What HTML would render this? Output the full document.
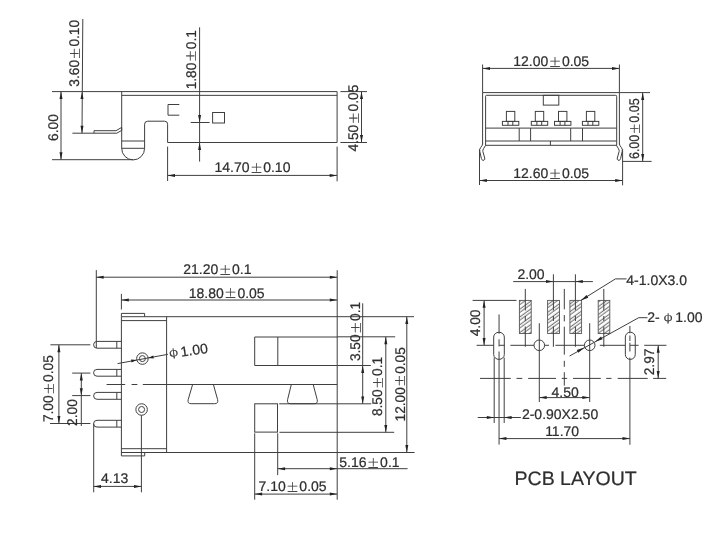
<!DOCTYPE html>
<html lang="en">
<head>
<meta charset="utf-8">
<title>PCB LAYOUT</title>
<style>
html,body{margin:0;padding:0;background:#fff;}
body{width:715px;height:542px;overflow:hidden;}
svg{display:block;will-change:transform;filter:grayscale(1);}
svg line,svg path,svg rect,svg circle{fill:none;stroke:#3f3f3f;stroke-width:1.0;}
svg .ar{fill:#222;stroke:none;}
svg text{font-family:"Liberation Sans","Noto Serif CJK SC",sans-serif;font-size:14.0px;fill:#2e2e2e;stroke:#2e2e2e;stroke-width:0.22px;text-rendering:geometricPrecision;}
svg .pm{font-family:"Noto Serif CJK SC","Liberation Sans",serif;font-size:12.5px;stroke-width:0.2px;}
svg .phi{font-family:"Noto Serif CJK SC","Liberation Sans",serif;font-size:11.3px;stroke-width:0.25px;}
</style>
</head>
<body>
<svg width="715" height="542" viewBox="0 0 715 542">
<rect x="0" y="0" width="715" height="542" style="fill:#fff;stroke:none"/>
<g id="viewA">
<line x1="52" y1="91.6" x2="337.1" y2="91.6"/>
<line x1="121.7" y1="95.35" x2="337.1" y2="95.35"/>
<path d="M121.7,91.6 V148.3 A11.45,11.6 0 0 0 144.6,148.3 V124.2 Q144.6,121.2 147.8,121.2 H164.6 Q167.6,121.2 167.6,124.2 V142.5 H337.1 V91.6"/>
<line x1="121.7" y1="141" x2="144.6" y2="141"/>
<line x1="121.7" y1="148.3" x2="144.6" y2="148.3"/>
<line x1="52" y1="159.7" x2="133" y2="159.7"/>
<line x1="61" y1="91.6" x2="61" y2="159.7"/>
<polygon class="ar" points="61.00,91.60 62.50,99.00 59.50,99.00"/>
<polygon class="ar" points="61.00,159.70 59.50,152.30 62.50,152.30"/>
<text transform="translate(57.50 140.90) rotate(-90) scale(0.982 1)">6.00</text>
<line x1="82.8" y1="19" x2="82" y2="133.2"/>
<polygon class="ar" points="82.00,91.60 83.50,99.00 80.50,99.00"/>
<polygon class="ar" points="82.00,133.20 80.50,125.80 83.50,125.80"/>
<line x1="72.4" y1="133.2" x2="94" y2="133.2"/>
<path d="M94,133.2 V130.7 H116 L121.7,127.4 V130.4 L116.8,133.2 Z" stroke-width="0.9" fill="#e2e2e2" stroke="#666"/>
<text transform="translate(79.20 86.72) rotate(-90) scale(0.982 1)">3.60<tspan class="pm" dx="0.55" dy="0.7">±</tspan><tspan dx="0.55" dy="-0.7">0.10</tspan></text>
<path d="M179.3,104.5 H168 V115.2 H179.3"/>
<rect x="212.6" y="112.5" width="11.9" height="10.5"/>
<line x1="190.7" y1="122.5" x2="209.6" y2="122.5"/>
<line x1="199.6" y1="27.3" x2="199.6" y2="161.6"/>
<polygon class="ar" points="199.60,122.50 198.10,115.10 201.10,115.10"/>
<polygon class="ar" points="199.60,142.50 201.10,149.90 198.10,149.90"/>
<text transform="translate(195.50 89.35) rotate(-90) scale(0.982 1)">1.80<tspan class="pm" dx="0.55" dy="0.7">±</tspan><tspan dx="0.55" dy="-0.7">0.1</tspan></text>
<line x1="167.6" y1="146.6" x2="167.6" y2="181"/>
<line x1="337.1" y1="146.6" x2="337.1" y2="181.3"/>
<line x1="167.6" y1="175.4" x2="337.1" y2="175.4"/>
<polygon class="ar" points="167.60,175.40 175.00,173.90 175.00,176.90"/>
<polygon class="ar" points="337.10,175.40 329.70,176.90 329.70,173.90"/>
<text x="214.53" y="171.9">14.70<tspan class="pm" dx="0.55" dy="0.7">±</tspan><tspan dx="0.55" dy="-0.7">0.10</tspan></text>
<line x1="340.4" y1="91.6" x2="367" y2="91.6"/>
<line x1="340.4" y1="142.5" x2="367" y2="142.5"/>
<line x1="361.5" y1="91.6" x2="361.5" y2="142.5"/>
<polygon class="ar" points="361.50,91.60 363.00,99.00 360.00,99.00"/>
<polygon class="ar" points="361.50,142.50 360.00,135.10 363.00,135.10"/>
<text transform="translate(357.80 151.52) rotate(-90) scale(0.982 1)">4.50<tspan class="pm" dx="0.55" dy="0.7">±</tspan><tspan dx="0.55" dy="-0.7">0.05</tspan></text>
</g>
<g id="viewB">
<line x1="482.6" y1="64.5" x2="482.6" y2="92.6"/>
<line x1="619.4" y1="64.5" x2="619.4" y2="92.6"/>
<line x1="482.6" y1="68.4" x2="619.4" y2="68.4"/>
<polygon class="ar" points="482.60,68.40 490.00,66.90 490.00,69.90"/>
<polygon class="ar" points="619.40,68.40 612.00,69.90 612.00,66.90"/>
<text x="513.23" y="66.2">12.00<tspan class="pm" dx="0.55" dy="0.7">±</tspan><tspan dx="0.55" dy="-0.7">0.05</tspan></text>
<path d="M482.6,144.4 V92.6 H619.4 V144.4" stroke="#555"/>
<line x1="619.4" y1="92.6" x2="650" y2="92.6" stroke="#666"/>
<path d="M482.6,143.8 Q482.4,145.6 480.6,147.6 Q479.2,149.3 479.8,151.5 L481.4,158.6 Q482.3,161.2 484.0,160.2 Q485.2,159.4 484.7,158.0 L482.9,151.6 Q482.5,150.3 483.6,148.6 L485.6,145.3"/>
<path d="M619.4,143.8 Q619.6,145.6 621.4,147.6 Q622.8,149.3 622.2,151.5 L620.6,158.6 Q619.7,161.2 618.0,160.2 Q616.8,159.4 617.3,158.0 L619.1,151.6 Q619.5,150.3 618.4,148.6 L616.4,145.3"/>
<path d="M485.6,145.3 V96.3 Q485.6,95.3 486.6,95.3 H615.7 Q616.7,95.3 616.7,96.3 V145.3 Z" stroke-width="1.35" stroke="#4a4a4a"/>
<line x1="485.6" y1="128.1" x2="616.7" y2="128.1" stroke-width="1.6" stroke="#555"/>
<line x1="485.6" y1="141" x2="616.7" y2="141" stroke-width="1.7" stroke="#555"/>
<line x1="519.2" y1="128.1" x2="519.2" y2="141" stroke-width="1.2"/>
<line x1="530.6" y1="128.1" x2="530.6" y2="141" stroke-width="1.2"/>
<line x1="570.7" y1="128.1" x2="570.7" y2="141" stroke-width="1.2"/>
<line x1="582.5" y1="128.1" x2="582.5" y2="141" stroke-width="1.2"/>
<line x1="550.4" y1="141" x2="550.4" y2="145.3"/>
<rect x="543.3" y="95.3" width="15.5" height="9.8" stroke-width="1.1"/>
<rect x="506.4" y="111.4" width="8.4" height="10"/>
<rect x="502.4" y="121.4" width="16.4" height="3.9"/>
<line x1="508" y1="121.4" x2="508" y2="125.3"/>
<line x1="512.8" y1="121.4" x2="512.8" y2="125.3"/>
<rect x="535.3" y="111.4" width="8.4" height="10"/>
<rect x="531.3" y="121.4" width="16.4" height="3.9"/>
<line x1="536.9" y1="121.4" x2="536.9" y2="125.3"/>
<line x1="541.7" y1="121.4" x2="541.7" y2="125.3"/>
<rect x="558.5" y="111.4" width="8.4" height="10"/>
<rect x="554.5" y="121.4" width="16.4" height="3.9"/>
<line x1="560.1" y1="121.4" x2="560.1" y2="125.3"/>
<line x1="564.9" y1="121.4" x2="564.9" y2="125.3"/>
<rect x="586.4" y="111.4" width="8.4" height="10"/>
<rect x="582.4" y="121.4" width="16.4" height="3.9"/>
<line x1="588" y1="121.4" x2="588" y2="125.3"/>
<line x1="592.8" y1="121.4" x2="592.8" y2="125.3"/>
<line x1="479.5" y1="149.4" x2="479.5" y2="185"/>
<line x1="622.6" y1="149.4" x2="622.6" y2="185.3"/>
<line x1="479.5" y1="180.5" x2="622.6" y2="180.5"/>
<polygon class="ar" points="479.50,180.50 486.90,179.00 486.90,182.00"/>
<polygon class="ar" points="622.60,180.50 615.20,182.00 615.20,179.00"/>
<text x="513.23" y="178.2">12.60<tspan class="pm" dx="0.55" dy="0.7">±</tspan><tspan dx="0.55" dy="-0.7">0.05</tspan></text>
<line x1="622.6" y1="161.4" x2="651.6" y2="161.4"/>
<line x1="642.7" y1="92.6" x2="642.7" y2="161.4"/>
<polygon class="ar" points="642.70,92.60 644.20,100.00 641.20,100.00"/>
<polygon class="ar" points="642.70,161.40 641.20,154.00 644.20,154.00"/>
<text transform="translate(639.00 159.03) rotate(-90) scale(0.89 1)">6.00<tspan class="pm" dx="0.55" dy="0.7">±</tspan><tspan dx="0.55" dy="-0.7">0.05</tspan></text>
</g>
<g id="viewC">
<line x1="96.3" y1="270.1" x2="96.3" y2="348"/>
<line x1="96.3" y1="277.2" x2="337.2" y2="277.2"/>
<polygon class="ar" points="96.30,277.20 103.70,275.70 103.70,278.70"/>
<polygon class="ar" points="337.20,277.20 329.80,278.70 329.80,275.70"/>
<text x="183.30" y="274.3">21.20<tspan class="pm" dx="0.55" dy="0.7">±</tspan><tspan dx="0.55" dy="-0.7">0.1</tspan></text>
<line x1="121.4" y1="293.9" x2="121.4" y2="309.5"/>
<line x1="121.4" y1="300" x2="337.2" y2="300"/>
<polygon class="ar" points="121.40,300.00 128.80,298.50 128.80,301.50"/>
<polygon class="ar" points="337.20,300.00 329.80,301.50 329.80,298.50"/>
<text x="188.73" y="297.6">18.80<tspan class="pm" dx="0.55" dy="0.7">±</tspan><tspan dx="0.55" dy="-0.7">0.05</tspan></text>
<line x1="337.2" y1="270.2" x2="337.2" y2="499.7"/>
<path d="M121.4,316.7 V313.4 H144.6 V316.7"/>
<line x1="121.4" y1="316.7" x2="414" y2="316.7"/>
<line x1="121.4" y1="320.6" x2="166.6" y2="320.6"/>
<line x1="121.4" y1="316.7" x2="121.4" y2="455.9"/>
<line x1="166.6" y1="316.7" x2="166.6" y2="452.5"/>
<line x1="121.4" y1="448.7" x2="166.6" y2="448.7"/>
<line x1="121.4" y1="452.5" x2="414.6" y2="452.5"/>
<path d="M121.4,455.9 H144.7 V452.5"/>
<path d="M121.4,341.4 H97 A3.4,3.4 0 0 0 97,348.2 H121.4"/>
<line x1="116.8" y1="341.4" x2="116.8" y2="348.2"/>
<path d="M121.4,369.4 H97 A3.4,3.4 0 0 0 97,376.2 H121.4"/>
<line x1="116.8" y1="369.4" x2="116.8" y2="376.2"/>
<path d="M121.4,392.4 H97.05 A3.45,3.45 0 0 0 97.05,399.3 H121.4"/>
<line x1="116.8" y1="392.4" x2="116.8" y2="399.3"/>
<path d="M121.4,420.3 H97 A3.4,3.4 0 0 0 97,427.1 H121.4"/>
<line x1="116.8" y1="420.3" x2="116.8" y2="427.1"/>
<line x1="106.6" y1="384.5" x2="125.2" y2="384.5"/>
<line x1="131.6" y1="384.5" x2="137.4" y2="384.5"/>
<line x1="142.8" y1="384.5" x2="337.2" y2="384.5"/>
<circle cx="142.4" cy="358.6" r="5.75"/>
<circle cx="142.4" cy="358.6" r="3"/>
<circle cx="141.6" cy="409.5" r="5.75"/>
<circle cx="141.6" cy="409.5" r="3"/>
<line x1="117.6" y1="363.6" x2="167.9" y2="354.3"/>
<polygon class="ar" points="136.70,360.05 131.57,362.53 131.02,359.58"/>
<polygon class="ar" points="148.10,357.95 153.23,355.47 153.78,358.42"/>
<text transform="translate(169.90 358.30) rotate(-8)"><tspan class="phi" dx="0" dy="-1.6">φ</tspan><tspan dx="-1" dy="1.6"> 1.00</tspan></text>
<path d="M192.6,384.5 L188.2,399.6 Q187.2,403.7 191.2,403.7 H214.6 Q218.6,403.7 217.6,399.6 L213.4,384.5"/>
<path d="M291.3,384.5 L287.6,399.6 Q286.6,403.7 290.6,403.7 H314.2 Q318.2,403.7 317.2,399.6 L313.2,384.5"/>
<path d="M337.2,337 H254.7 V365.5 H337.2"/>
<line x1="277.8" y1="337" x2="277.8" y2="365.5"/>
<rect x="254.7" y="403.8" width="22.8" height="28.3"/>
<line x1="279.2" y1="403.8" x2="371.3" y2="403.8"/>
<line x1="279.4" y1="432.3" x2="394.2" y2="432.3"/>
<line x1="254.7" y1="433.3" x2="254.7" y2="499.7"/>
<line x1="277.7" y1="433.3" x2="277.7" y2="475.1"/>
<line x1="337.2" y1="336.8" x2="395.2" y2="336.8"/>
<line x1="337.2" y1="365.5" x2="370.8" y2="365.5"/>
<line x1="362.7" y1="303.3" x2="362.7" y2="403.8"/>
<polygon class="ar" points="362.70,365.50 364.20,372.90 361.20,372.90"/>
<polygon class="ar" points="362.70,403.80 361.20,396.40 364.20,396.40"/>
<text transform="translate(359.80 361.12) rotate(-90) scale(0.982 1)">3.50<tspan class="pm" dx="0.55" dy="0.7">±</tspan><tspan dx="0.55" dy="-0.7">0.1</tspan></text>
<line x1="385.8" y1="336.8" x2="385.8" y2="432.3"/>
<polygon class="ar" points="385.80,336.80 387.30,344.20 384.30,344.20"/>
<polygon class="ar" points="385.80,432.30 384.30,424.90 387.30,424.90"/>
<text transform="translate(382.00 416.10) rotate(-90) scale(0.982 1)">8.50<tspan class="pm" dx="0.55" dy="0.7">±</tspan><tspan dx="0.55" dy="-0.7">0.1</tspan></text>
<line x1="406.8" y1="316.7" x2="406.8" y2="452.5"/>
<polygon class="ar" points="406.80,316.70 408.30,324.10 405.30,324.10"/>
<polygon class="ar" points="406.80,452.50 405.30,445.10 408.30,445.10"/>
<text transform="translate(404.60 421.44) rotate(-90) scale(0.978 1)">12.00<tspan class="pm" dx="0.55" dy="0.7">±</tspan><tspan dx="0.55" dy="-0.7">0.05</tspan></text>
<line x1="50.4" y1="344.8" x2="90.4" y2="344.8"/>
<line x1="50" y1="423.5" x2="90.4" y2="423.5"/>
<line x1="58.9" y1="344.8" x2="58.9" y2="423.5"/>
<polygon class="ar" points="58.90,344.80 60.40,352.20 57.40,352.20"/>
<polygon class="ar" points="58.90,423.50 57.40,416.10 60.40,416.10"/>
<text transform="translate(53.20 422.10) rotate(-90) scale(0.982 1)">7.00<tspan class="pm" dx="0.55" dy="0.7">±</tspan><tspan dx="0.55" dy="-0.7">0.05</tspan></text>
<line x1="72.2" y1="373.1" x2="90.4" y2="373.1"/>
<line x1="72.2" y1="395.6" x2="90.4" y2="395.6"/>
<line x1="81.3" y1="373.1" x2="81.3" y2="426"/>
<polygon class="ar" points="81.30,373.10 82.80,380.50 79.80,380.50"/>
<polygon class="ar" points="81.30,395.60 79.80,388.20 82.80,388.20"/>
<text transform="translate(77.30 425.89) rotate(-90) scale(0.982 1)">2.00</text>
<line x1="93.7" y1="423.6" x2="93.7" y2="492.3"/>
<line x1="141.4" y1="415.3" x2="141.4" y2="492.3"/>
<line x1="93.6" y1="486.4" x2="141.4" y2="486.4"/>
<polygon class="ar" points="93.60,486.40 101.00,484.90 101.00,487.90"/>
<polygon class="ar" points="141.40,486.40 134.00,487.90 134.00,484.90"/>
<text x="100.98" y="483.4">4.13</text>
<line x1="277.7" y1="468.7" x2="407.6" y2="468.7"/>
<polygon class="ar" points="277.70,468.70 285.10,467.20 285.10,470.20"/>
<polygon class="ar" points="337.20,468.70 329.80,470.20 329.80,467.20"/>
<text x="339.24" y="467">5.16<tspan class="pm" dx="0.55" dy="0.7">±</tspan><tspan dx="0.55" dy="-0.7">0.1</tspan></text>
<line x1="254.7" y1="494.1" x2="337.2" y2="494.1"/>
<polygon class="ar" points="254.70,494.10 262.10,492.60 262.10,495.60"/>
<polygon class="ar" points="337.20,494.10 329.80,495.60 329.80,492.60"/>
<text x="258.48" y="491">7.10<tspan class="pm" dx="0.55" dy="0.7">±</tspan><tspan dx="0.55" dy="-0.7">0.05</tspan></text>
</g>
<g id="viewD">
<defs><pattern id="hatch" patternUnits="userSpaceOnUse" width="6.3" height="6.3" patternTransform="rotate(-36)"><path d="M-1,1.2 H8 M-1,3.8 H8" style="stroke:#444;stroke-width:0.8"/></pattern></defs>
<rect x="519.4" y="300.4" width="11.8" height="33.1" style="fill:url(#hatch);stroke:#555;stroke-width:0.9"/>
<rect x="547.6" y="300.4" width="11.9" height="33.1" style="fill:url(#hatch);stroke:#555;stroke-width:0.9"/>
<rect x="569.9" y="300.4" width="11.7" height="33.1" style="fill:url(#hatch);stroke:#555;stroke-width:0.9"/>
<rect x="598.2" y="300.4" width="11.6" height="33.1" style="fill:url(#hatch);stroke:#555;stroke-width:0.9"/>
<line x1="525.3" y1="288.9" x2="525.3" y2="310.5"/>
<line x1="525.3" y1="316" x2="525.3" y2="321"/>
<line x1="525.3" y1="326.5" x2="525.3" y2="346.8"/>
<line x1="553.4" y1="274.3" x2="553.4" y2="310.5"/>
<line x1="553.4" y1="316" x2="553.4" y2="321"/>
<line x1="553.4" y1="326.5" x2="553.4" y2="346.8"/>
<line x1="575.4" y1="274.3" x2="575.4" y2="310.5"/>
<line x1="575.4" y1="316" x2="575.4" y2="321"/>
<line x1="575.4" y1="326.5" x2="575.4" y2="346.8"/>
<line x1="603.8" y1="288.9" x2="603.8" y2="310.5"/>
<line x1="603.8" y1="316" x2="603.8" y2="321"/>
<line x1="603.8" y1="326.5" x2="603.8" y2="346.8"/>
<line x1="513.2" y1="281.6" x2="592.9" y2="281.6"/>
<polygon class="ar" points="553.40,281.60 546.00,283.10 546.00,280.10"/>
<polygon class="ar" points="575.40,281.60 582.80,280.10 582.80,283.10"/>
<text x="517.40" y="279.4">2.00</text>
<line x1="472.6" y1="300.4" x2="516.5" y2="300.4"/>
<line x1="484.1" y1="300.4" x2="484.1" y2="345.3"/>
<polygon class="ar" points="484.10,300.40 485.60,307.80 482.60,307.80"/>
<polygon class="ar" points="484.10,345.30 482.60,337.90 485.60,337.90"/>
<text transform="translate(479.70 336.32) rotate(-90) scale(0.982 1)">4.00</text>
<line x1="476.6" y1="345.3" x2="493.5" y2="345.3"/>
<line x1="499.2" y1="345.3" x2="504.6" y2="345.3"/>
<line x1="510.4" y1="345.3" x2="534" y2="345.3"/>
<line x1="544.6" y1="345.3" x2="549" y2="345.3"/>
<line x1="555.4" y1="345.3" x2="584.3" y2="345.3"/>
<line x1="599.8" y1="345.3" x2="625" y2="345.3"/>
<line x1="629.9" y1="345.3" x2="638.6" y2="345.3"/>
<line x1="644.2" y1="345.3" x2="666.4" y2="345.3"/>
<path d="M493.7,337 A5.3,4.8 0 0 1 504.3,337 V354.6 A5.3,4.8 0 0 1 493.7,354.6 Z" stroke="#4d4d4d"/>
<path d="M625.3499999999999,337 A4.95,4.8 0 0 1 635.25,337 V354.6 A4.95,4.8 0 0 1 625.3499999999999,354.6 Z" stroke="#4d4d4d"/>
<line x1="499.05" y1="314.4" x2="499.05" y2="333.8" stroke-width="1.15" stroke="#6a6a6a"/>
<line x1="499.05" y1="339.3" x2="499.05" y2="346.5" stroke-width="1.15" stroke="#6a6a6a"/>
<line x1="499.05" y1="351.5" x2="499.05" y2="444.6" stroke-width="1.15" stroke="#6a6a6a"/>
<line x1="494.2" y1="357.6" x2="494.2" y2="423" stroke-width="1.2" stroke="#6a6a6a"/>
<line x1="504.2" y1="357.6" x2="504.2" y2="423" stroke-width="1.2" stroke="#6a6a6a"/>
<line x1="629.9" y1="326" x2="629.9" y2="333.3" stroke-width="1.15" stroke="#6a6a6a"/>
<line x1="629.9" y1="335.5" x2="629.9" y2="341" stroke-width="1.15" stroke="#6a6a6a"/>
<line x1="629.9" y1="342.7" x2="629.9" y2="351.5" stroke-width="1.15" stroke="#6a6a6a"/>
<line x1="629.9" y1="357.6" x2="629.9" y2="444.8" stroke-width="1.15" stroke="#6a6a6a"/>
<circle cx="539.3" cy="345.3" r="5.3"/>
<line x1="539.3" y1="323.2" x2="539.3" y2="402"/>
<circle cx="589.7" cy="345.3" r="5.3"/>
<line x1="589.7" y1="323.2" x2="589.7" y2="402"/>
<line x1="564.3" y1="288.9" x2="564.3" y2="309.3"/>
<line x1="564.3" y1="315" x2="564.3" y2="321.4"/>
<line x1="564.3" y1="326.7" x2="564.3" y2="354.7"/>
<line x1="564.3" y1="360.8" x2="564.3" y2="366.8"/>
<line x1="564.3" y1="372.2" x2="564.3" y2="385.6"/>
<line x1="480" y1="378.4" x2="510.8" y2="378.4"/>
<line x1="516.5" y1="378.4" x2="522.3" y2="378.4"/>
<line x1="528.2" y1="378.4" x2="556" y2="378.4"/>
<line x1="561.8" y1="378.4" x2="567.2" y2="378.4"/>
<line x1="573" y1="378.4" x2="600.8" y2="378.4"/>
<line x1="606.2" y1="378.4" x2="611.5" y2="378.4"/>
<line x1="617.7" y1="378.4" x2="647.7" y2="378.4"/>
<line x1="653.1" y1="378.4" x2="666.2" y2="378.4"/>
<line x1="539.3" y1="397.6" x2="589.7" y2="397.6"/>
<polygon class="ar" points="539.30,397.60 546.70,396.10 546.70,399.10"/>
<polygon class="ar" points="589.70,397.60 582.30,399.10 582.30,396.10"/>
<text x="551.58" y="396.5">4.50</text>
<path d="M626.5,278.9 H615.4 L580.8,300.4"/>
<polygon class="ar" points="580.80,300.40 586.58,294.92 588.27,297.64"/>
<text x="626.28" y="285">4-1.0X3.0</text>
<path d="M647.5,317.7 H638.7 L569.6,356"/>
<polygon class="ar" points="595.00,341.70 601.05,336.52 602.60,339.32"/>
<polygon class="ar" points="584.40,347.60 578.35,352.78 576.80,349.98"/>
<text x="647.30" y="322.1">2- <tspan class="phi" dx="0" dy="-1.6">φ</tspan><tspan dx="-1" dy="1.6"> 1.00</tspan></text>
<line x1="658.2" y1="345.3" x2="658.2" y2="378.4"/>
<polygon class="ar" points="658.20,345.30 659.70,352.70 656.70,352.70"/>
<polygon class="ar" points="658.20,378.40 656.70,371.00 659.70,371.00"/>
<text transform="translate(654.20 375.29) rotate(-90) scale(0.982 1)">2.97</text>
<line x1="477.7" y1="417.5" x2="520.9" y2="417.5"/>
<polygon class="ar" points="494.20,417.50 486.80,419.00 486.80,416.00"/>
<polygon class="ar" points="504.20,417.50 511.60,416.00 511.60,419.00"/>
<text x="521.90" y="418.7">2-0.90X2.50</text>
<line x1="499.05" y1="438.6" x2="629.9" y2="438.6"/>
<polygon class="ar" points="499.05,438.60 506.45,437.10 506.45,440.10"/>
<polygon class="ar" points="629.90,438.60 622.50,440.10 622.50,437.10"/>
<text x="545.13" y="435.8">11.70</text>
<text x="514.60" y="484.8" style="font-size:19.5px">PCB LAYOUT</text>
</g>
</svg>
</body>
</html>
